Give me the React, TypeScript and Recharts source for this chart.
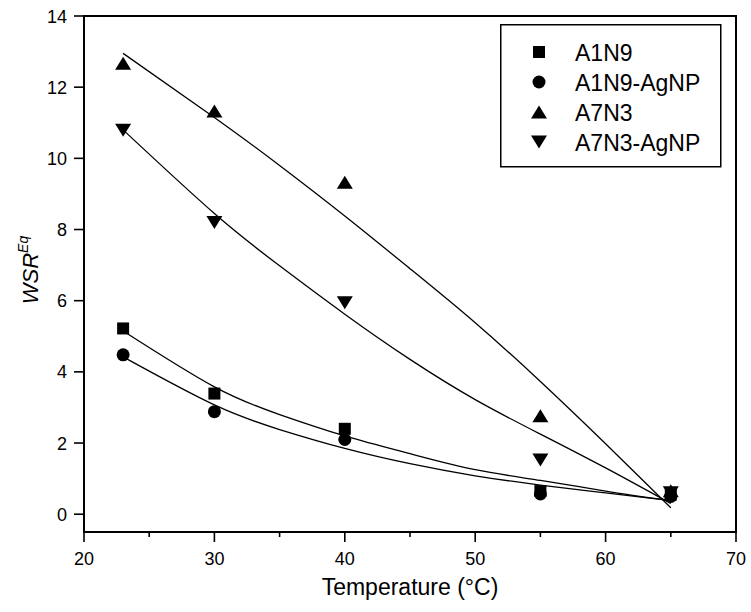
import React from 'react';
import { ComposedChart, Line, Scatter, XAxis, YAxis, ReferenceArea } from 'recharts';

// Measured points
const a1n9 = [
  { x: 23, y: 5.22 }, { x: 30, y: 3.39 }, { x: 40, y: 2.4 }, { x: 55, y: 0.65 }, { x: 65, y: 0.55 },
];
const a1n9Ag = [
  { x: 23, y: 4.48 }, { x: 30, y: 2.88 }, { x: 40, y: 2.1 }, { x: 55, y: 0.57 }, { x: 65, y: 0.5 },
];
const a7n3 = [
  { x: 23, y: 12.67 }, { x: 30, y: 11.33 }, { x: 40, y: 9.33 }, { x: 55, y: 2.77 }, { x: 65, y: 0.66 },
];
const a7n3Ag = [
  { x: 23, y: 10.79 }, { x: 30, y: 8.2 }, { x: 40, y: 5.94 }, { x: 55, y: 1.52 }, { x: 65, y: 0.6 },
];

// Fitted curves
const fitA1N9 = [
  { x: 23, y: 5.15 }, { x: 30, y: 3.58 }, { x: 35, y: 2.8 }, { x: 40, y: 2.2 }, { x: 45, y: 1.7 },
  { x: 50, y: 1.25 }, { x: 55, y: 0.95 }, { x: 60, y: 0.65 }, { x: 65, y: 0.38 },
];
const fitA1N9Ag = [
  { x: 23, y: 4.42 }, { x: 30, y: 3.07 }, { x: 35, y: 2.38 }, { x: 40, y: 1.85 }, { x: 45, y: 1.42 },
  { x: 50, y: 1.08 }, { x: 55, y: 0.82 }, { x: 60, y: 0.6 }, { x: 65, y: 0.38 },
];
const fitA7N3 = [
  { x: 23, y: 12.95 }, { x: 30, y: 11.15 }, { x: 35, y: 9.8 }, { x: 40, y: 8.38 }, { x: 45, y: 6.9 },
  { x: 50, y: 5.38 }, { x: 55, y: 3.73 }, { x: 60, y: 1.98 }, { x: 65, y: 0.18 },
];
const fitA7N3Ag = [
  { x: 23, y: 10.8 }, { x: 30, y: 8.45 }, { x: 35, y: 6.98 }, { x: 40, y: 5.62 }, { x: 45, y: 4.35 },
  { x: 50, y: 3.22 }, { x: 55, y: 2.25 }, { x: 60, y: 1.3 }, { x: 65, y: 0.3 },
];

const xTicks = [20, 25, 30, 35, 40, 45, 50, 55, 60, 65, 70];
const yTicks = [0, 2, 4, 6, 8, 10, 12, 14];
const seriesNames = ['A1N9', 'A1N9-AgNP', 'A7N3', 'A7N3-AgNP'];

const FONT = '"Liberation Sans", Arial, sans-serif';

const SquareM = ({ cx, cy }: any) => <rect x={cx - 6} y={cy - 6} width={12} height={12} fill="#000" />;
const CircleM = ({ cx, cy }: any) => <circle cx={cx} cy={cy} r={6.5} fill="#000" />;
const UpM = ({ cx, cy }: any) => (
  <polygon points={`${cx - 8},${cy + 6.5} ${cx + 8},${cy + 6.5} ${cx},${cy - 6.5}`} fill="#000" />
);
const DownM = ({ cx, cy }: any) => (
  <polygon points={`${cx - 8},${cy - 6.5} ${cx + 8},${cy - 6.5} ${cx},${cy + 6.5}`} fill="#000" />
);
const markers = [SquareM, CircleM, UpM, DownM];

const XTick = ({ x, y, payload }: any) => {
  const major = payload.value % 10 === 0;
  return (
    <g>
      <line x1={x} x2={x} y1={y} y2={y + (major ? 10 : 5)} stroke="#000" strokeWidth={1.6} />
      {major && (
        <text x={x} y={y + 33} textAnchor="middle" fontSize={18} fontFamily={FONT} fill="#000">
          {payload.value}
        </text>
      )}
    </g>
  );
};

const YTick = ({ x, y, payload }: any) => (
  <g>
    <line x1={x - 10} x2={x} y1={y} y2={y} stroke="#000" strokeWidth={1.6} />
    <text x={x - 17} y={y + 6.5} textAnchor="end" fontSize={18} fontFamily={FONT} fill="#000">
      {payload.value}
    </text>
  </g>
);

const LegendBox = () => (
  <g transform="translate(500,24)">
    <rect x={0.75} y={0.75} width={220} height={142} fill="#fff" stroke="#000" strokeWidth={1.5} />
    {seriesNames.map((n, i) => {
      const M = markers[i];
      const cy = 28 + i * 30;
      return (
        <g key={n}>
          <M cx={39} cy={cy} />
          <text x={75} y={cy + 8.5} fontSize={23} fontFamily={FONT} fill="#000">
            {n}
          </text>
        </g>
      );
    })}
  </g>
);

const YLabel = () => (
  <text
    x={38}
    y={270}
    transform="rotate(-90, 38, 270)"
    textAnchor="middle"
    fontSize={22}
    fontFamily={FONT}
    fontStyle="italic"
    fill="#000"
  >
    WSR
    <tspan fontSize={14} dy={-10}>Eq</tspan>
  </text>
);

const XLabel = () => (
  <text x={410} y={595} textAnchor="middle" fontSize={23} fontFamily={FONT} fill="#000">
    Temperature (°C)
  </text>
);

export default function App() {
  const fits = [fitA1N9, fitA1N9Ag, fitA7N3, fitA7N3Ag];
  const pts = [a1n9, a1n9Ag, a7n3, a7n3Ag];
  return (
    <div style={{ position: 'fixed', left: 0, top: 0, width: 751, height: 612, background: '#fff' }}>
      <ComposedChart
        width={751}
        height={612}
        margin={{ top: 16, right: 15, bottom: 20, left: 0 }}
        style={{ fontFamily: FONT, overflow: 'visible' }}
      >
        <XAxis
          type="number"
          dataKey="x"
          domain={[20, 70]}
          ticks={xTicks}
          interval={0}
          tickSize={0}
          tickMargin={0}
          tickLine={false}
          tick={<XTick />}
          axisLine={{ stroke: '#000', strokeWidth: 2 }}
          height={60}
          allowDataOverflow
          label={<XLabel />}
        />
        <YAxis
          type="number"
          dataKey="y"
          domain={[-0.5, 14]}
          ticks={yTicks}
          interval={0}
          tickSize={0}
          tickMargin={0}
          tickLine={false}
          tick={<YTick />}
          axisLine={{ stroke: '#000', strokeWidth: 2 }}
          width={84}
          allowDataOverflow
          label={<YLabel />}
        />
        <ReferenceArea x1={20} x2={70} y1={-0.5} y2={14} fill="none" stroke="#000" strokeWidth={2} />
        {fits.map((d, i) => (
          <Line
            key={'f' + i}
            data={d}
            dataKey="y"
            type="natural"
            dot={false}
            stroke="#000"
            strokeWidth={1.3}
            isAnimationActive={false}
            legendType="none"
          />
        ))}
        {pts.map((d, i) => (
          <Scatter
            key={'s' + i}
            name={seriesNames[i]}
            data={d}
            dataKey="y"
            shape={markers[i]}
            isAnimationActive={false}
          />
        ))}
        <ReferenceArea
          x1={20}
          x2={20}
          y1={14}
          y2={14}
          fill="none"
          stroke="none"
          label={<LegendBox />}
          ifOverflow="visible"
        />
      </ComposedChart>
    </div>
  );
}
